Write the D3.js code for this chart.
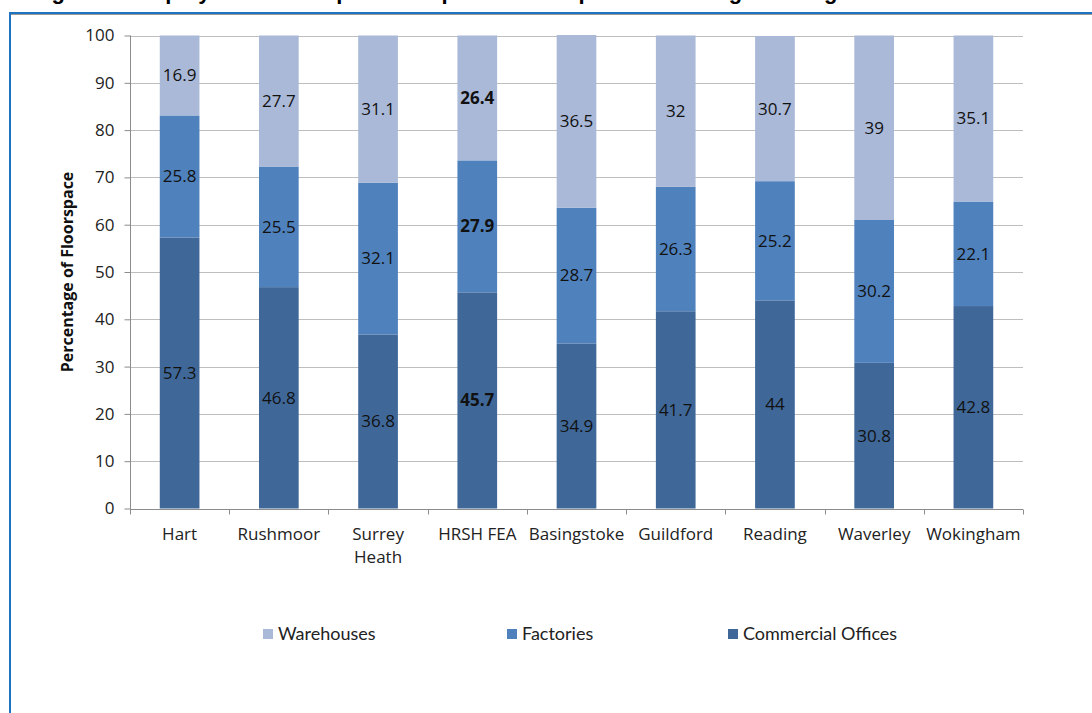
<!DOCTYPE html>
<html>
<head>
<meta charset="utf-8">
<script src="https://cdn.jsdelivr.net/npm/d3@7"></script>
<style>
  html, body { margin: 0; padding: 0; background: #fff; overflow: hidden; }
  svg { display: block; }
</style>
</head>
<body>
<svg id="chart" width="1092" height="713"></svg>
<script>
const categories = ["Hart", "Rushmoor", "Surrey Heath", "HRSH FEA", "Basingstoke", "Guildford", "Reading", "Waverley", "Wokingham"];
const commercialOffices = [57.3, 46.8, 36.8, 45.7, 34.9, 41.7, 44, 30.8, 42.8];
const factories = [25.8, 25.5, 32.1, 27.9, 28.7, 26.3, 25.2, 30.2, 22.1];
const warehouses = [16.9, 27.7, 31.1, 26.4, 36.5, 32, 30.7, 39, 35.1];
const seriesNames = ["Commercial Offices", "Factories", "Warehouses"];
const yTicks = [0, 10, 20, 30, 40, 50, 60, 70, 80, 90, 100];
const boldCategory = "HRSH FEA";

const colors = {"Commercial Offices": "#3F6899", "Factories": "#4F81BD", "Warehouses": "#AAB9D7"};
const seriesValues = {"Commercial Offices": commercialOffices, "Factories": factories, "Warehouses": warehouses};

const svg = d3.select("#chart");
const pLeft = 130, pRight = 1023, pTop = 35.5, pBottom = 508.5;
const FONT = "Open Sans, sans-serif";

// Title (cropped at top of image, as in the reference)
svg.append("text")
  .attr("x", 32).attr("y", -1)
  .attr("font-family", "Liberation Sans, Arial, sans-serif")
  .attr("font-weight", "bold").attr("font-size", 22)
  .attr("fill", "#000")
  .text("Figure 8: Employment Floorspace Composition compared with Neighbouring Authorities");

// Frame
svg.append("line").attr("x1", 10).attr("x2", 1092).attr("y1", 13).attr("y2", 13)
  .attr("stroke", "#1F74C1").attr("stroke-width", 2);
svg.append("line").attr("x1", 11).attr("x2", 1092).attr("y1", 14.5).attr("y2", 14.5)
  .attr("stroke", "#9A9A9A").attr("stroke-width", 1);
svg.append("line").attr("x1", 10).attr("x2", 10).attr("y1", 12).attr("y2", 713)
  .attr("stroke", "#1F74C1").attr("stroke-width", 2);

const x = d3.scaleBand().domain(categories).range([pLeft, pRight]).paddingInner(0.6).paddingOuter(0.3);
const xBand = d3.scaleBand().domain(categories).range([pLeft, pRight]).padding(0);
const y = d3.scaleLinear().domain([0, 100]).range([pBottom, pTop]);

// Gridlines
svg.append("g").selectAll("line").data(yTicks.filter(t => t > 0)).join("line")
  .attr("x1", pLeft).attr("x2", pRight)
  .attr("y1", d => Math.round(y(d)) + 0.5).attr("y2", d => Math.round(y(d)) + 0.5)
  .attr("stroke", "#BEBEBE").attr("stroke-width", 1);

// Stack
const rows = categories.map((c, i) => {
  const r = {category: c};
  seriesNames.forEach(s => r[s] = seriesValues[s][i]);
  return r;
});
const stack = d3.stack().keys(seriesNames)(rows);

const gBars = svg.append("g");
stack.forEach(layer => {
  gBars.selectAll(null).data(layer).join("rect")
    .attr("x", d => x(d.data.category))
    .attr("width", x.bandwidth())
    .attr("y", d => y(d[1]))
    .attr("height", d => y(d[0]) - y(d[1]))
    .attr("fill", colors[layer.key]);
});

// Data labels
stack.forEach(layer => {
  svg.append("g").selectAll("text").data(layer).join("text")
    .attr("x", d => x(d.data.category) + x.bandwidth() / 2)
    .attr("y", d => y((d[0] + d[1]) / 2))
    .attr("dy", "0.35em")
    .attr("text-anchor", "middle")
    .attr("font-family", FONT)
    .attr("font-size", 17)
    .attr("font-weight", d => d.data.category === boldCategory ? "bold" : "normal")
    .attr("fill", "#111")
    .text(d => d.data[layer.key]);
});

// Y axis
const yAxis = d3.axisLeft(y).tickValues(yTicks).tickSize(6).tickPadding(10).tickFormat(d3.format("d"));
const gy = svg.append("g").attr("transform", `translate(${pLeft + 0.5},0)`).call(yAxis);
gy.select(".domain").attr("stroke", "#8C8C8C").attr("d", `M0,${pTop}V${pBottom + 5}`);
gy.selectAll(".tick line").attr("stroke", "#8C8C8C");
gy.selectAll(".tick text").attr("font-family", FONT).attr("font-size", 17).attr("fill", "#222");

// X axis
const gx = svg.append("g").attr("transform", `translate(0,${Math.round(y(0)) + 0.5})`);
gx.append("line").attr("x1", pLeft).attr("x2", pRight).attr("stroke", "#8C8C8C");
const edges = categories.map(c => xBand(c)).concat([pRight]);
gx.selectAll("line.tk").data(edges).join("line").attr("class", "tk")
  .attr("x1", d => Math.round(d) + 0.5).attr("x2", d => Math.round(d) + 0.5)
  .attr("y1", 0).attr("y2", 5).attr("stroke", "#8C8C8C");
const labels = gx.selectAll("text.lbl").data(categories).join("text").attr("class", "lbl")
  .attr("x", c => xBand(c) + xBand.bandwidth() / 2)
  .attr("y", 30)
  .attr("text-anchor", "middle")
  .attr("font-family", FONT).attr("font-size", 17).attr("fill", "#222");
labels.each(function(c) {
  const words = c === "Surrey Heath" ? ["Surrey", "Heath"] : [c];
  const t = d3.select(this);
  words.forEach((w, i) => t.append("tspan").attr("x", xBand(c) + xBand.bandwidth() / 2).attr("dy", i === 0 ? 0 : 23).text(w));
});

// Y axis title
svg.append("text")
  .attr("transform", `translate(67,${(pTop + pBottom) / 2}) rotate(-90)`)
  .attr("text-anchor", "middle")
  .attr("dy", "0.35em")
  .attr("font-family", FONT).attr("font-weight", "bold").attr("font-size", 16)
  .attr("fill", "#111")
  .text("Percentage of Floorspace");

// Legend
const legendItems = [
  {name: "Warehouses", x: 263},
  {name: "Factories", x: 507},
  {name: "Commercial Offices", x: 728}
];
const lg = svg.append("g");
legendItems.forEach(it => {
  lg.append("rect").attr("x", it.x).attr("y", 629).attr("width", 10).attr("height", 10).attr("fill", colors[it.name]);
  lg.append("text").attr("x", it.x + 15).attr("y", 634).attr("dy", "0.35em")
    .attr("font-family", "Lato, sans-serif").attr("font-size", 18).attr("fill", "#222").text(it.name);
});
</script>
</body>
</html>
